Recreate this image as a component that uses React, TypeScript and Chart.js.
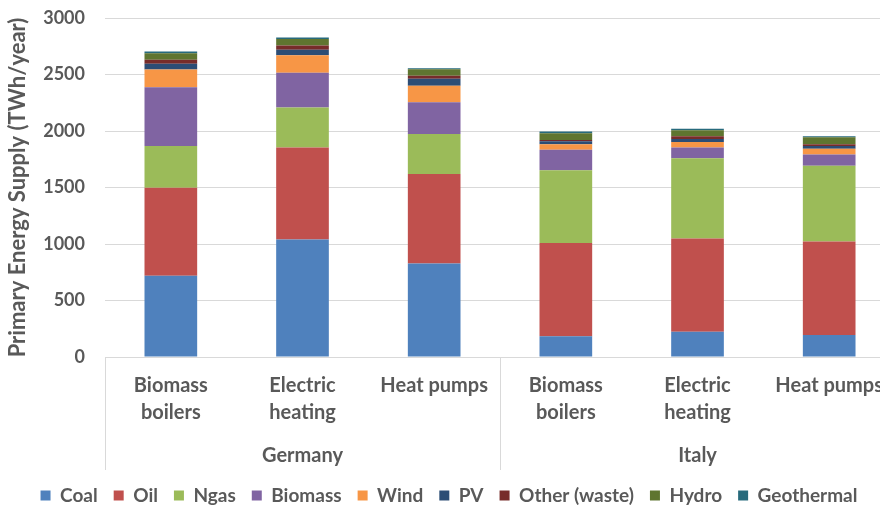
import React, { useEffect, useRef } from "react";
import { Chart, registerables } from "chart.js";

Chart.register(...registerables);

const categories: (string | string[])[] = [
  ["Biomass", "boilers"],
  ["Electric", "heating"],
  "Heat pumps",
  ["Biomass", "boilers"],
  ["Electric", "heating"],
  "Heat pumps",
];
const groups = ["Germany", "Italy"];
const groupSizes = [3, 3];

const coal = [718, 1040, 827, 183, 224, 195];
const oil = [780, 813, 793, 825, 825, 827];
const ngas = [370, 354, 354, 644, 709, 671];
const biomass = [519, 308, 280, 183, 97, 100];
const wind = [157, 156, 146, 47, 48, 51];
const pv = [51, 48, 62, 27, 27, 24];
const other = [35, 38, 26, 12, 23, 14];
const hydro = [59, 58, 59, 59, 53, 62];
const geothermal = [15, 13, 9, 15, 15, 9];

const yTicks = [0, 500, 1000, 1500, 2000, 2500, 3000];

const FONT = "Lato";
const GREY = "#595959";

const groupPlugin = {
  id: "groupLabels",
  afterDraw(chart: any) {
    const x = chart.scales.x;
    const y = chart.scales.y;
    const ctx = chart.ctx;
    const top = y.getPixelForValue(0);
    const bottom = x.bottom;
    ctx.save();
    ctx.strokeStyle = "#D9D9D9";
    ctx.lineWidth = 1;
    const lines: number[] = [x.left];
    let idx = 0;
    groupSizes.forEach((n) => {
      const end = idx + n;
      if (end < categories.length) {
        lines.push((x.getPixelForValue(end - 1) + x.getPixelForValue(end)) / 2);
      }
      idx = end;
    });
    lines.push(x.right);
    lines.forEach((lx) => {
      ctx.beginPath();
      ctx.moveTo(Math.round(lx) + 0.5, top);
      ctx.lineTo(Math.round(lx) + 0.5, bottom);
      ctx.stroke();
    });
    ctx.fillStyle = GREY;
    ctx.font = `bold 20px ${FONT}`;
    ctx.textAlign = "center";
    ctx.textBaseline = "middle";
    idx = 0;
    groups.forEach((g, gi) => {
      const n = groupSizes[gi];
      const cx = (x.getPixelForValue(idx) + x.getPixelForValue(idx + n - 1)) / 2;
      ctx.fillText(g, cx, bottom - 14);
      idx += n;
    });
    ctx.restore();
  },
};

export default function App() {
  const ref = useRef<HTMLCanvasElement>(null);
  useEffect(() => {
    document.body.style.margin = "0";
    const mk = (label: string, data: number[], color: string) => ({
      label,
      data,
      backgroundColor: color,
      borderWidth: 0,
      categoryPercentage: 1,
      barPercentage: 0.4,
    });
    const chart = new Chart(ref.current!, {
      type: "bar",
      data: {
        labels: categories,
        datasets: [
          mk("Coal", coal, "#4F81BD"),
          mk("Oil", oil, "#C0504D"),
          mk("Ngas", ngas, "#9BBB59"),
          mk("Biomass", biomass, "#8064A2"),
          mk("Wind", wind, "#F79646"),
          mk("PV", pv, "#2C4D75"),
          mk("Other (waste)", other, "#772C2A"),
          mk("Hydro", hydro, "#5F7530"),
          mk("Geothermal", geothermal, "#276A7C"),
        ],
      },
      options: {
        responsive: false,
        animation: false,
        layout: { padding: { top: 0, right: 0, left: 0, bottom: -8 } },
        plugins: {
          legend: {
            position: "bottom",
            labels: {
              color: GREY,
              font: { family: FONT, size: 19, weight: "bold" },
              boxWidth: 10,
              boxHeight: 10,
              padding: 16,
            },
          },
          tooltip: { enabled: false },
        },
        scales: {
          x: {
            stacked: true,
            grid: { display: false, drawTicks: false },
            border: { display: false },
            ticks: {
              color: GREY,
              font: { family: FONT, size: 20, weight: "bold", lineHeight: 1.35 },
              maxRotation: 0,
              autoSkip: false,
              padding: 15,
            },
            afterFit: (s: any) => {
              s.height += 29;
            },
          },
          y: {
            stacked: true,
            min: 0,
            max: 3000,
            afterBuildTicks: (s: any) => {
              s.ticks = yTicks.map((v) => ({ value: v }));
            },
            afterFit: (s: any) => {
              s.width = 105;
              s.paddingTop = 18;
            },
            grid: { color: "#D9D9D9", drawTicks: false, lineWidth: 1 },
            border: { display: false },
            ticks: {
              color: GREY,
              font: { family: FONT, size: 18, weight: "bold" },
              padding: 20,
              callback: (v: any) => String(v),
            },
            title: {
              display: true,
              text: "Primary Energy Supply (TWh/year)",
              color: GREY,
              font: { family: FONT, size: 22, weight: "bold" },
              padding: { top: 5, bottom: 0 },
            },
          },
        },
      },
      plugins: [groupPlugin],
    });
    return () => chart.destroy();
  }, []);
  return (
    <div style={{ width: 880, height: 507, overflow: "hidden", position: "relative" }}>
      <canvas ref={ref} width={898} height={507} style={{ display: "block" }} />
    </div>
  );
}
